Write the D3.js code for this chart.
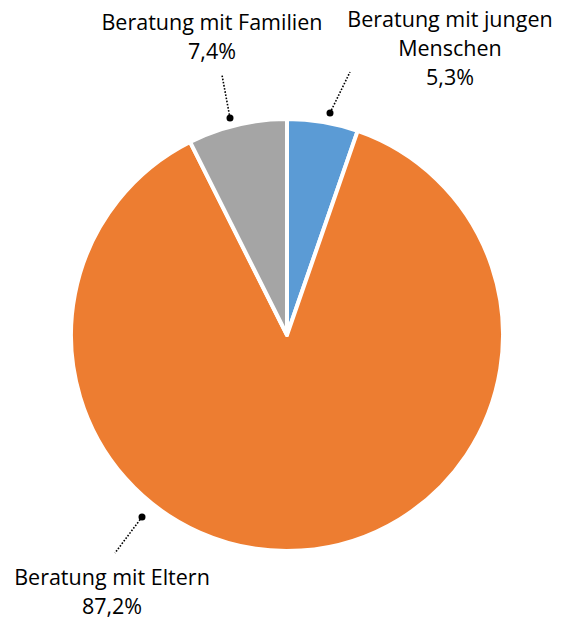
<!DOCTYPE html>
<html>
<head>
<meta charset="utf-8">
<script src="https://cdn.jsdelivr.net/npm/d3@7"></script>
<style>
  html, body { margin: 0; padding: 0; background: #fff; }
  svg { display: block; }
  text { font-family: "Open Sans", "Noto Sans", sans-serif; fill: #000; }
</style>
</head>
<body>
<svg id="chart" width="561" height="619"></svg>
<script>
// Share of counselling cases by type (percent)
const categories = ["Beratung mit jungen Menschen", "Beratung mit Eltern", "Beratung mit Familien"];
const values = [5.3, 87.2, 7.4];
const valueLabels = ["5,3%", "87,2%", "7,4%"];
const labelLines = [["Beratung mit jungen", "Menschen"], ["Beratung mit Eltern"], ["Beratung mit Familien"]];
const colors = ["#5B9BD5", "#ED7D31", "#A5A5A5"];

// Label placement: text centre / first baseline, leader dot, leader line end
const labelLayout = [
  { tx: 450, ty: 27, dot: [330, 113], end: [350, 72] },
  { tx: 112, ty: 585, dot: [142, 517], end: [115, 553] },
  { tx: 212, ty: 30, dot: [230, 118], end: [222, 75] }
];

const width = 561, height = 619;
const cx = 287, cy = 335, radius = 216;
const lineHeight = 29;

const svg = d3.select("#chart");

const pie = d3.pie().sort(null).value(d => d)(values);
const arc = d3.arc().innerRadius(0).outerRadius(radius);

const g = svg.append("g").attr("transform", `translate(${cx},${cy})`);
g.selectAll("path.slice")
  .data(pie)
  .join("path")
  .attr("class", "slice")
  .attr("d", arc)
  .attr("fill", (d, i) => colors[i])
  .attr("stroke", "#fff")
  .attr("stroke-width", 4)
  .attr("stroke-linejoin", "round");

// Leader lines
const leaders = svg.append("g");
labelLayout.forEach((L, i) => {
  leaders.append("line")
    .attr("x1", L.dot[0]).attr("y1", L.dot[1])
    .attr("x2", L.end[0]).attr("y2", L.end[1])
    .attr("stroke", "#000")
    .attr("stroke-width", 1.6)
    .attr("stroke-dasharray", "1.6,1.6");
  leaders.append("circle")
    .attr("cx", L.dot[0]).attr("cy", L.dot[1])
    .attr("r", 3.5)
    .attr("fill", "#000");
});

// Labels
const labels = svg.append("g");
labelLayout.forEach((L, i) => {
  const t = labels.append("text")
    .attr("text-anchor", "middle")
    .attr("font-size", 21.5);
  const lines = labelLines[i].concat([valueLabels[i]]);
  lines.forEach((s, k) => {
    t.append("tspan")
      .attr("x", L.tx)
      .attr("y", L.ty + k * lineHeight)
      .text(s);
  });
});
</script>
</body>
</html>
